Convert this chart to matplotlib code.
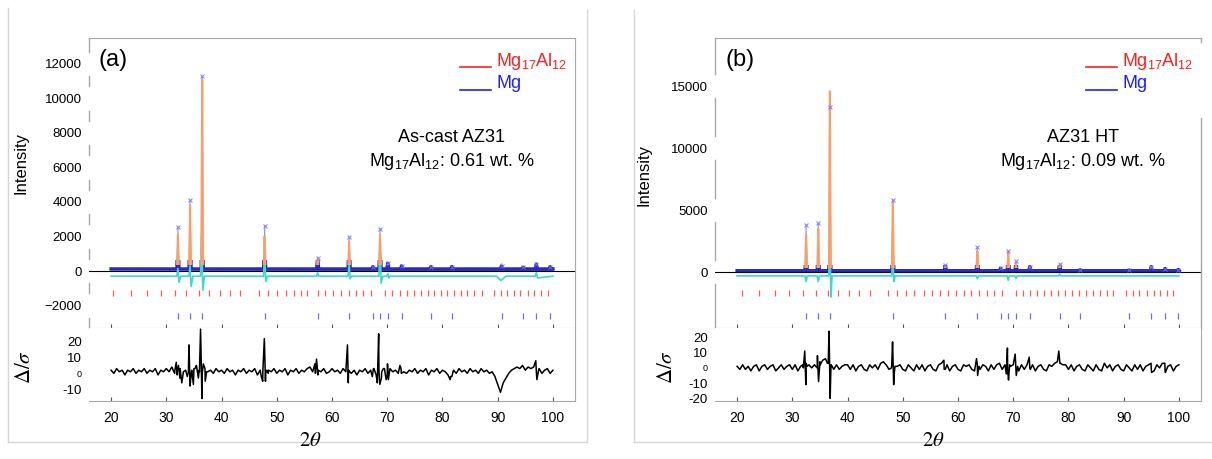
import numpy as np
import matplotlib
matplotlib.use("Agg")
import matplotlib.pyplot as plt
from matplotlib.lines import Line2D
from matplotlib.patches import Rectangle

plt.rcParams['font.family'] = ['Liberation Sans', 'DejaVu Sans']
plt.rcParams['mathtext.fontset'] = 'custom'
plt.rcParams['mathtext.rm'] = 'Liberation Sans'
plt.rcParams['mathtext.it'] = 'Liberation Sans:italic'
plt.rcParams['mathtext.default'] = 'regular'

W, H = 1212, 459

# ---------------- panel (a): as-cast AZ31 ----------------
# peak positions (2theta), observed and calculated peak heights
peak_tt_a = [32.1, 34.3, 36.5, 47.8, 57.4, 63.1, 67.4, 68.7, 70.1, 72.6, 77.9, 81.7, 90.7, 94.6, 97.0, 99.5]
obs_a = [2550, 4100, 11300, 2600, 750, 1950, 250, 2450, 450, 300, 250, 260, 300, 220, 400, 250]
calc_a = [2100, 3800, 11100, 2000, 650, 1700, 220, 2100, 380, 260, 220, 230, 400, 200, 330, 220]
base_a = 120
bg_tt = [20, 40, 60, 80, 100]
bg_a = [90, 70, 60, 55, 55]

# difference curve (obs - calc)
diff_tt_a = [20, 31.9, 32.1, 32.3, 32.6, 34.1, 34.3, 34.5, 34.8, 36.2, 36.4, 36.6, 36.9,
             47.6, 47.8, 48.0, 48.3, 57.2, 57.4, 57.6, 62.9, 63.1, 63.3, 63.5,
             68.5, 68.7, 68.9, 69.2, 69.9, 70.1, 70.3, 70.5, 89.8, 90.6, 91.5,
             96.8, 97.0, 97.2, 100]
diff_a = [0, 0, 450, -350, 0, 0, 600, -600, 0, 0, 2500, -800, 0,
          0, 1500, -300, 0, 0, 200, 0, 0, 750, -150, 0,
          0, 2000, -400, 0, 0, 150, -100, 0, 0, -250, 0,
          0, 200, -100, 0]

# reflection markers
refl_mg17_a = [20.4, 23.6, 26.5, 29.1, 31.5, 33.6, 35.9, 37.7, 39.7, 41.5, 43.3, 46.7, 48.4,
               50.0, 51.6, 53.1, 54.3, 55.5, 57.5, 58.7, 60.2, 61.6, 63.1, 64.3, 65.7, 67.0,
               69.6, 70.9, 72.3, 73.6, 74.8, 76.1, 77.3, 78.5, 79.7, 80.9, 82.1, 83.3, 84.5,
               85.7, 87.1, 89.4, 90.6, 91.7, 92.9, 94.1, 95.4, 96.6, 97.8, 99.1]
refl_mg_a = [32.1, 34.3, 36.5, 47.8, 57.4, 63.1, 67.4, 68.7, 70.1, 72.6, 77.9, 81.7, 90.7,
             94.6, 97.0, 99.5]

# residual delta/sigma, read every 0.5 deg from 20 to 100
res_a = [2, 0, 3, 1, 2, -1, 2, 1, 3, 0,
         2, 1, 3, 0, 2, 1, 3, -1, 2, 1,
         3, 1, 4, 0, 2, 3, -1, 2, 1, 0,
         3, 4, 1, 0, 3, 1, 2, 0, 3, 1,
         2, 0, 3, 1, 2, -1, 2, 1, 3, 0,
         2, 1, 3, -1, 2, 3, 0, 2, 1, 3,
         0, 2, 1, 3, -1, 2, 1, 3, 0, 2,
         1, 3, 4, 1, 0, 2, 1, 3, 0, 1,
         3, 1, 2, 0, 3, 1, 2, 0, 2, -1,
         2, 1, 3, 0, 2, 3, -1, 2, 1, 3,
         -1, 3, 1, 2, 0, 3, 1, 0, 2, 1,
         3, 0, 2, 1, 3, -1, 2, 1, 3, 0,
         2, 1, -1, -2, 2, 0, 3, 1, 2, 0,
         3, 1, 2, 0, 3, 1, 2, 0, 1, -2,
         -7, -12, -6, -3, 0, 2, 3, 4, 3, 5,
         2, 4, 3, 4, 1, 3, 0, 2, 3, 0,
         2]
# sharp residual features at the peaks
spike_tt_a = [31.55, 31.8, 31.95, 32.2, 32.45, 32.8, 33.1, 33.8, 34.1, 34.3, 34.6, 34.9, 35.2,
              35.45, 35.8, 35.95, 36.2, 36.45, 36.7, 37.05, 37.3, 47.2, 47.45, 47.75, 47.95,
              48.2, 48.45, 56.9, 57.2, 57.45, 62.8, 62.95, 63.2, 67.3, 67.6, 68.2, 68.45,
              68.65, 68.95, 69.3, 69.8, 70.05, 70.2, 72.3, 72.55, 81.4, 81.7, 96.9, 97.1, 97.4]
spike_a = [2, 7, -1, 5, -3, -6, 1, -2, 18, -8, 2, -7, 3,
           5, -3, 2, 28, -16, 6, -5, 1, -2, -5, 22, -5,
           2, 0, 6, 9, -1, 18, -6, 1, -2, 3, -6, 25,
           -7, -3, 3, -4, 6, -4, 5, 0, -4, -2, 8, -4, 2]

# ---------------- panel (b): AZ31 HT ----------------
peak_tt_b = [32.5, 34.7, 36.8, 48.2, 57.7, 63.5, 67.7, 69.1, 70.5, 73.0, 78.4, 82.1, 91.0, 95.0, 97.5, 99.9]
obs_b = [3800, 3950, 13300, 5800, 600, 2000, 320, 1700, 870, 450, 680, 200, 180, 450, 300, 220]
calc_b = [3000, 3500, 14600, 5700, 500, 1700, 300, 1500, 700, 380, 550, 190, 180, 400, 280, 210]
base_b = 120
bg_b = [90, 75, 65, 60, 60]

diff_tt_b = [20, 32.3, 32.5, 32.7, 34.5, 34.7, 34.9, 36.6, 36.8, 37.0, 37.2,
             48.0, 48.2, 48.4, 48.6, 63.3, 63.5, 63.7, 68.9, 69.1, 69.3,
             70.3, 70.5, 70.7, 78.2, 78.4, 78.6, 100]
diff_b = [0, 0, -450, 0, 0, -450, 0, 0, 3000, -1700, 0,
          0, 1500, -450, 0, 0, -200, 0, 0, -350, 0,
          0, -200, 0, 0, 150, 0, 0]

refl_mg17_b = [20.8, 24.0, 26.8, 29.4, 32.0, 34.2, 36.4, 38.3, 40.2, 42.1, 44.0, 47.3, 48.9,
               50.6, 52.1, 53.9, 55.3, 56.8, 58.2, 59.7, 61.0, 62.4, 63.8, 65.2, 66.6, 68.0,
               70.5, 71.8, 73.1, 74.3, 75.6, 76.8, 78.1, 79.3, 80.7, 81.9, 83.2, 84.4, 85.7,
               86.9, 88.1, 90.4, 91.6, 92.8, 94.2, 95.4, 96.6, 97.8, 99.0]
refl_mg_b = [32.5, 34.7, 36.8, 48.2, 57.7, 63.5, 67.7, 69.1, 70.5, 73.0, 78.4, 82.1, 91.0,
             95.0, 97.5, 99.9]

res_b = [1, -1, 2, -1, 1, -2, 1, 2, -2, 1,
         2, -1, 1, 2, -2, 0, 2, -1, 1, 2,
         -1, 2, -2, 1, 0, 3, 2, 0, 2, 0,
         4, 5, 6, 3, 2, -1, 2, -1, 1, 2,
         2, -1, 2, -2, 1, 2, -1, -2, 2, 0,
         2, -1, 3, 4, 2, -1, 2, -2, 1, 2,
         -1, -2, 2, 0, -2, 2, -1, 2, -2, 1,
         2, -1, -2, 2, 3, -1, 2, -2, 1, 2,
         -1, -2, 2, 1, 2, -1, -2, 2, -1, 2,
         1, -2, 2, -1, 2, 3, -1, 2, -2, 1,
         2, -1, -2, 2, -1, 2, 0, 2, -2, 1,
         2, -1, -2, 2, 1, 3, 4, 3, 2, 2,
         -1, 2, -2, 1, 2, -1, -2, 2, 0, -2,
         2, -1, -2, 3, 0, 2, -2, 1, 2, -1,
         -2, 2, 0, -2, 2, -1, 2, -2, 1, 2,
         -1, -2, 2, 0, 3, -2, 1, 2, -2, 1,
         2]
spike_tt_b = [31.9, 32.25, 32.45, 32.7, 34.25, 34.55, 34.75, 35.05, 36.35, 36.65, 36.85, 37.05,
              46.7, 47.95, 48.15, 48.35, 48.6, 57.45, 57.7, 63.35, 63.55, 63.8, 68.75, 68.95,
              69.15, 69.35, 70.35, 70.55, 70.8, 72.9, 73.1, 78.25, 78.45, 94.95, 95.05, 97.45, 97.55]
spike_b = [2, 11, -11, 1, 1, 8, -9, 2, 3, 24, -20, 2,
           3, 0, 17, -11, 1, 5, -1, 6, -5, 1, -4, 13,
           -8, 2, 9, -5, 1, 7, -1, 11, 3, 3, -3, 3, -3]

res_grid = np.arange(20, 100.01, 0.5)


def pattern(tt, h, base, hw=0.18):
    x, y = [20.0], [base]
    for p, v in zip(tt, h):
        x += [p - hw, p, p + hw]
        y += [base, v, base]
    if x[-1] < 100:
        x.append(100.0)
        y.append(base)
    return np.array(x), np.array(y)


def merged(base_vals, sp_tt, sp_vals):
    x = np.concatenate([res_grid, sp_tt])
    y = np.concatenate([base_vals, sp_vals])
    order = np.argsort(x, kind='stable')
    return x[order], y[order]


def fr(x0, y0, x1, y1):
    return [x0 / W, 1 - y1 / H, (x1 - x0) / W, (y1 - y0) / H]


GRAY = '#a8a8a8'


def left_segments(ax, ticks, gap, ylo, yhi):
    tr = ax.get_yaxis_transform()
    edges = [ylo] + list(ticks) + [yhi]
    for lo, hi in zip(edges[:-1], edges[1:]):
        a = lo if lo == ylo else lo + gap
        b = hi if hi == yhi else hi - gap
        if b > a:
            ax.plot([0, 0], [a, b], transform=tr, color=GRAY, lw=1, clip_on=False)


def draw_panel(fig, top_box, res_box, ylim, rlim, yticks, gap,
               peak_tt, obs, calc, base, bg, diff_tt, diff, refl1, refl2, rows,
               res_vals, sp_tt, sp_vals, rticks, right_gap=None):
    ax = fig.add_axes(fr(*top_box))
    rx = fig.add_axes(fr(*res_box))

    xo, yo = pattern(peak_tt, obs, base)
    xc, yc = pattern(peak_tt, calc, base)
    # observed: thick dark band near the background, thin above it
    ol, = ax.plot(xo, yo, color='#1c1cb8', lw=2.4, zorder=2)
    ol.set_clip_path(Rectangle((10, -30000), 100, 30000 + base + 500, transform=ax.transData))
    ax.plot(xo, yo, color='#4a4ae0', lw=0.7, alpha=0.6, zorder=2)
    cl, = ax.plot(xc, yc, color='#f7a06c', lw=1.5, zorder=3)
    cl.set_clip_path(Rectangle((10, base + 250), 100, 30000, transform=ax.transData))
    ax.plot(xo[yo > base], yo[yo > base], ls='none', marker='x', ms=3, mew=0.8,
            color='#7070ff', alpha=0.8, zorder=4)
    ax.plot(bg_tt, bg, color='#0a6a0a', lw=1, zorder=1)
    ax.plot(diff_tt, np.array(diff) - 300, color='#3fd6cc', lw=1.2, zorder=2)
    ax.axhline(0, color='k', lw=0.8, zorder=1)
    ax.plot(refl1, np.full(len(refl1), rows[0]), ls='none', marker='|', ms=4.5, mew=0.9,
            color='#ff5a5a')
    ax.plot(refl2, np.full(len(refl2), rows[1]), ls='none', marker='|', ms=4.5, mew=0.9,
            color='#6a6aff')

    ax.set_xlim(16, 104)
    ax.set_ylim(*ylim)
    ax.set_xticks(range(20, 101, 10))
    ax.tick_params(axis='x', direction='in', length=3, labelbottom=False, color='#555555')
    ax.set_yticks(yticks)
    ax.tick_params(axis='y', length=0, labelsize=9.5, pad=5)
    ax.spines['left'].set_visible(False)
    for s in ['top', 'right', 'bottom']:
        ax.spines[s].set_color(GRAY)
    if right_gap is not None:
        ax.spines['right'].set_visible(False)
        ax.plot([1, 1], [0, right_gap[0]], transform=ax.transAxes, color=GRAY, lw=1, clip_on=False)
        ax.plot([1, 1], [right_gap[1], 1], transform=ax.transAxes, color=GRAY, lw=1, clip_on=False)
    left_segments(ax, yticks, gap, *ylim)

    xr, yr = merged(res_vals, sp_tt, sp_vals)
    rx.plot(xr, yr, color='k', lw=1.1)
    rx.set_xlim(16, 104)
    rx.set_ylim(*rlim)
    rx.set_xticks(range(20, 101, 10))
    rx.tick_params(axis='x', direction='in', length=3, labelsize=10, pad=7, color='#555555')
    rx.set_yticks(rticks)
    rx.set_yticklabels([str(t) for t in rticks])
    rx.tick_params(axis='y', length=0, labelsize=9.5, pad=5)
    for lab, t in zip(rx.get_yticklabels(), rticks):
        if t == 0:
            lab.set_fontsize(6.5)
    rx.spines['left'].set_visible(False)
    rx.spines['top'].set_visible(False)
    rx.spines['right'].set_color(GRAY)
    rx.spines['bottom'].set_color(GRAY)
    return ax, rx


fig = plt.figure(figsize=(W / 100, H / 100), dpi=100)

draw_panel(fig, (89, 38, 575, 328), (89, 328, 575, 401), (-3300, 13500), (-17.5, 28.7),
           list(range(-2000, 12001, 2000)), 700,
           peak_tt_a, obs_a, calc_a, base_a, bg_a, diff_tt_a, diff_a,
           refl_mg17_a, refl_mg_a, (-1280, -2610), res_a, spike_tt_a, spike_a,
           [20, 10, 0, -10])

draw_panel(fig, (715, 38, 1201, 328), (715, 328, 1201, 401), (-4500, 18900), (-21.7, 26.1),
           [0, 5000, 10000, 15000], 970,
           peak_tt_b, obs_b, calc_b, base_b, bg_b, diff_tt_b, diff_b,
           refl_mg17_b, refl_mg_b, (-1700, -3500), res_b, spike_tt_b, spike_b,
           [20, 10, 0, -10, -20], right_gap=((328 - 118) / 290, (328 - 42) / 290))


def px(x, y):
    return x / W, 1 - y / H


def fline(x0, y0, x1, y1, color='#d6d6d6', lw=1):
    (a, b), (c, d) = px(x0, y0), px(x1, y1)
    fig.add_artist(Line2D([a, c], [b, d], transform=fig.transFigure, color=color, lw=lw))


# outer frames around the two panels
fline(8, 8, 8, 442)
fline(8, 442, 587, 442)
fline(587, 10, 587, 442)
fline(634, 10, 634, 442)
fline(634, 442, 1212, 442)

sub = 'Mg$_{17}$Al$_{12}$'
for lab, cx, lx0, ann1, ann2, ix, iy, dx, tx in [
        ('(a)', 113, 460, 'As-cast AZ31', sub + ': 0.61 wt. %', 21, 163, 25, 310),
        ('(b)', 740, 1086, 'AZ31 HT', sub + ': 0.09 wt. %', 644, 175, 666, 933)]:
    fig.text(*px(cx, 60), lab, fontsize=17, ha='center', va='center')
    fline(lx0, 67, lx0 + 31, 67, color='#ff2020', lw=1.2)
    fline(lx0, 89.5, lx0 + 31, 89.5, color='#2020ff', lw=1.2)
    fig.text(*px(lx0 + 36, 66), sub, fontsize=13, color='#ff1f1f', va='baseline')
    fig.text(*px(lx0 + 36, 88), 'Mg', fontsize=13, color='#1f1fff', va='baseline')
    ac = 452 if lab == '(a)' else 1083
    fig.text(*px(ac, 142), ann1, fontsize=13, ha='center', va='baseline')
    fig.text(*px(ac, 166), ann2, fontsize=13, ha='center', va='baseline')
    fig.text(*px(ix, iy), 'Intensity', fontsize=12, rotation=90, ha='center', va='center')
    fig.text(*px(dx, 367), r'$\mathit{\Delta/\sigma}$', fontsize=15, rotation=90, ha='center',
             va='center', math_fontfamily='stix')
    fig.text(*px(tx, 440), r'$\mathit{2\theta}$', fontsize=15, ha='center', va='center',
             math_fontfamily='stix')

fig.savefig('out.png', dpi=100)
